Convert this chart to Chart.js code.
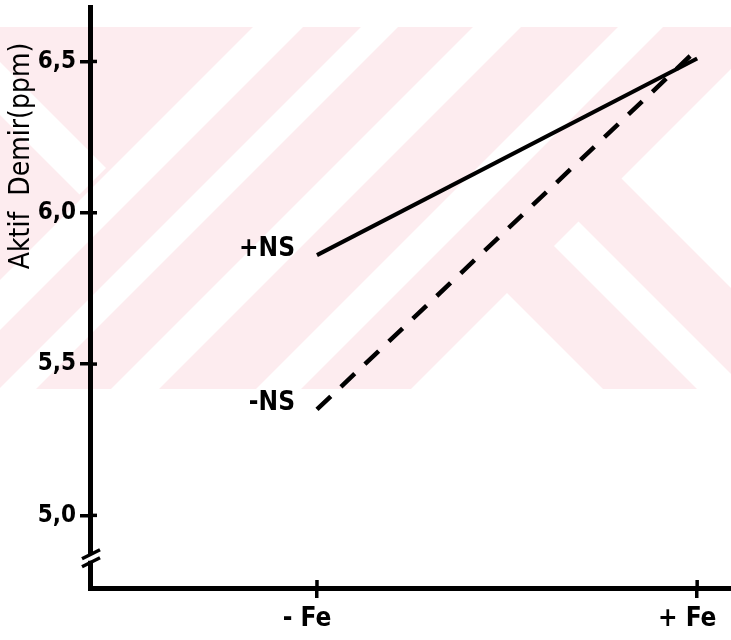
<!DOCTYPE html>
<html>
<head>
<meta charset="utf-8">
<script src="https://cdn.jsdelivr.net/npm/chart.js@4/dist/chart.umd.min.js"></script>
<style>
  html, body { margin: 0; padding: 0; background: #fff; }
  canvas { display: block; }
</style>
</head>
<body>
<canvas id="myChart" width="731" height="640"></canvas>
<script>
// values (ppm)
var categories = ['- Fe', '+ Fe'];
var seriesNames = ['+NS', '-NS'];
var withNS = [5.86, 6.51];
var withoutNS = [5.35, 6.54];
var yTicks = [5.0, 5.5, 6.0, 6.5];
var yTitle = 'Aktif  Demir(ppm)';

var FONT = "'DejaVu Sans Condensed', 'DejaVu Sans', sans-serif";

function toPoints(values) {
    return values.map(function (v, i) { return { x: i, y: v }; });
}

// pale pink watermark behind the scanned figure
var watermark = {
    id: 'watermark',
    beforeDraw: function (chart) {
        var ctx = chart.ctx;
        var y0 = 27, y1 = 389, w = chart.width;
        ctx.save();
        ctx.beginPath(); ctx.rect(0, y0, w, y1 - y0); ctx.clip();
        ctx.fillStyle = '#fdecef';
        ctx.fillRect(0, y0, w, y1 - y0);
        ctx.fillStyle = '#ffffff';
        function slash(a, b) {      // band a < x+y < b
            ctx.beginPath();
            ctx.moveTo(a - y0, y0); ctx.lineTo(b - y0, y0);
            ctx.lineTo(b - y1, y1); ctx.lineTo(a - y1, y1);
            ctx.closePath(); ctx.fill();
        }
        function backslash(a, b) {  // band a < y-x < b
            ctx.beginPath();
            ctx.moveTo(y0 - a, y0); ctx.lineTo(y0 - b, y0);
            ctx.lineTo(y1 - b, y1); ctx.lineTo(y1 - a, y1);
            ctx.closePath(); ctx.fill();
        }
        slash(280, 330); slash(388, 425); slash(500, 548); slash(645, 690);
        // chevrons on the right
        ctx.save();
        ctx.beginPath();
        ctx.moveTo(800 - y0, y0); ctx.lineTo(w + 400, y0); ctx.lineTo(w + 400, y1); ctx.lineTo(800 - y1, y1);
        ctx.closePath(); ctx.clip();
        backslash(-2000, -443); backslash(-357, -308); backslash(-214, 2000);
        ctx.restore();
        // left arm of the X
        ctx.save();
        ctx.beginPath();
        ctx.moveTo(-400, y0); ctx.lineTo(274 - y0, y0); ctx.lineTo(274 - y1, y1); ctx.lineTo(-400, y1);
        ctx.closePath(); ctx.clip();
        backslash(62, 115);
        ctx.restore();
        ctx.restore();
    }
};

// tick crosses, axis break, series names and axis title
var extras = {
    id: 'extras',
    afterDraw: function (chart) {
        var ctx = chart.ctx, xs = chart.scales.x, ys = chart.scales.y;
        ctx.save();
        ctx.strokeStyle = '#000';
        ctx.lineWidth = 3.5;
        yTicks.forEach(function (v) {
            var p = ys.getPixelForValue(v);
            ctx.beginPath(); ctx.moveTo(xs.left, p); ctx.lineTo(xs.left + 7, p); ctx.stroke();
        });
        categories.forEach(function (c, i) {
            var p = xs.getPixelForValue(i);
            ctx.beginPath(); ctx.moveTo(p, ys.bottom); ctx.lineTo(p, ys.bottom - 8); ctx.stroke();
        });

        var yb = ys.getPixelForValue(4.86);
        ctx.fillStyle = '#fff';
        ctx.fillRect(xs.left - 4, yb - 3, 8, 6);
        ctx.beginPath();
        ctx.moveTo(xs.left - 8, yb + 1); ctx.lineTo(xs.left + 10, yb - 8);
        ctx.moveTo(xs.left - 8, yb + 9); ctx.lineTo(xs.left + 10, yb);
        ctx.stroke();

        ctx.fillStyle = '#000';
        ctx.font = 'bold 26px ' + FONT;
        ctx.textAlign = 'right';
        ctx.textBaseline = 'middle';
        chart.data.datasets.forEach(function (ds, i) {
            var pt = chart.getDatasetMeta(i).data[0];
            ctx.fillText(ds.label, pt.x - 22, pt.y - 6);
        });

        ctx.translate(22, 156);
        ctx.rotate(-Math.PI / 2);
        ctx.textAlign = 'center';
        ctx.font = '28px ' + FONT;
        ctx.fillText(yTitle, 0, 0);
        ctx.restore();
    }
};

function init() {
    var ctx = document.getElementById('myChart').getContext('2d');
    var chart = new Chart(ctx, {
        type: 'line',
        data: {
            datasets: [{
                label: seriesNames[0],
                data: toPoints(withNS),
                borderColor: '#000',
                borderWidth: 4,
                pointRadius: 0
            }, {
                label: seriesNames[1],
                data: toPoints(withoutNS),
                borderColor: '#000',
                borderWidth: 4.5,
                borderDash: [19, 14],
                pointRadius: 0
            }]
        },
        options: {
            responsive: false,
            animation: false,
            devicePixelRatio: 1,
            layout: { padding: { top: 7, right: 0, bottom: 0, left: 0 } },
            plugins: { legend: { display: false }, tooltip: { enabled: false } },
            scales: {
                x: {
                    type: 'linear',
                    min: -0.597,
                    max: 1.089,
                    afterBuildTicks: function (scale) {
                        scale.ticks = categories.map(function (c, i) { return { value: i }; });
                    },
                    afterFit: function (scale) {
                        scale.height = 52;
                        scale.paddingLeft = 0; scale.paddingRight = 0;
                    },
                    border: { color: '#000', width: 5 },
                    grid: { drawOnChartArea: false, color: '#000', lineWidth: 3.5, tickLength: 10 },
                    ticks: {
                        maxRotation: 0,
                        padding: 6,
                        labelOffset: -10,
                        color: '#000',
                        font: { family: FONT, size: 26, weight: 'bold' },
                        callback: function (v) { return categories[v]; }
                    }
                },
                y: {
                    min: 4.76,
                    max: 6.68,
                    afterBuildTicks: function (scale) {
                        scale.ticks = yTicks.map(function (v) { return { value: v }; });
                    },
                    afterFit: function (scale) {
                        scale.width = 90;
                        scale.paddingTop = 0; scale.paddingBottom = 0;
                    },
                    border: { color: '#000', width: 5 },
                    grid: { drawOnChartArea: false, color: '#000', lineWidth: 3.5, tickLength: 10 },
                    ticks: {
                        padding: 4,
                        color: '#000',
                        font: { family: FONT, size: 24, weight: 'bold' },
                        callback: function (v) { return v.toFixed(1).replace('.', ','); }
                    }
                }
            }
        },
        plugins: [watermark, extras]
    });
}

init();
</script>
</body>
</html>
